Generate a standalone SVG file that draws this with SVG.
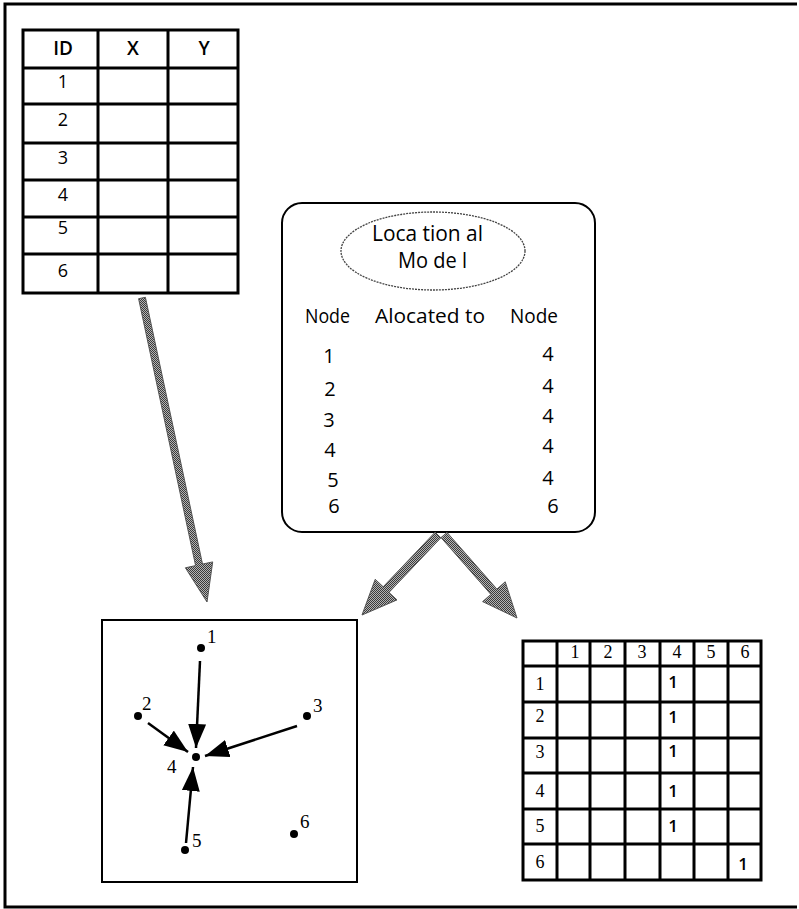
<svg xmlns="http://www.w3.org/2000/svg" width="799" height="909" viewBox="0 0 799 909">
  <defs>
    <!-- halftone fill used by the wide grey flow arrows -->
    <pattern id="halftone" width="2" height="2" patternUnits="userSpaceOnUse">
      <rect width="2" height="2" fill="#b4b4b4"/>
      <rect width="1" height="1" fill="#3a3a3a"/>
      <rect x="1" y="1" width="1" height="1" fill="#3a3a3a"/>
    </pattern>
    <marker id="head" markerUnits="userSpaceOnUse" markerWidth="26" markerHeight="20" refX="24" refY="9" orient="auto">
      <path d="M0,0 L24,9 L0,18 Z" fill="#000"/>
    </marker>
  </defs>
  <style>
    .frame { fill: none; stroke: #000; stroke-width: 3; }
    .grid { fill: none; stroke: #000; stroke-width: 3; }
    .thin { fill: none; stroke: #000; stroke-width: 2; }
    .sans { font-family: "Open Sans", "Noto Sans", "Liberation Sans", sans-serif; fill: #000; }
    .serif { font-family: "Liberation Serif", "DejaVu Serif", serif; fill: #000; }
    .hdr { font-size: 19px; font-weight: 600; text-anchor: middle; }
    .cell { font-size: 18px; text-anchor: middle; }
    .lbl { font-size: 20px; }
    .num { font-size: 20px; text-anchor: middle; }
    .pt { font-size: 19px; }
    .mx { font-size: 18px; text-anchor: middle; }
    .one { font-size: 17px; font-weight: 600; text-anchor: middle; }
    .flow { fill: url(#halftone); stroke: #555; stroke-width: 1; }
    .link { stroke: #000; stroke-width: 2.5; fill: none; marker-end: url(#head); }
  </style>

  <rect width="799" height="909" fill="#fff"/>

  <!-- page frame (open on the right side) -->
  <path class="frame" d="M797,4 H5 V907 H797"/>

  <!-- coordinate table -->
  <g id="coord-table">
    <rect class="grid" x="23" y="30" width="215" height="263"/>
    <path class="grid" d="M98,30 V293 M168,30 V293 M23,68 H238 M23,104 H238 M23,143 H238 M23,180 H238 M23,217 H238 M23,254 H238"/>
    <g class="sans">
      <text class="hdr" x="63" y="55">ID</text>
      <text class="hdr" x="133" y="55">X</text>
      <text class="hdr" x="204" y="55">Y</text>
      <text class="cell" x="63" y="88">1</text>
      <text class="cell" x="63" y="126">2</text>
      <text class="cell" x="63" y="164">3</text>
      <text class="cell" x="63" y="201">4</text>
      <text class="cell" x="63" y="234">5</text>
      <text class="cell" x="63" y="277">6</text>
    </g>
  </g>

  <!-- locational model box -->
  <g id="locational-model">
    <rect class="thin" x="282" y="203" width="313" height="329" rx="20" ry="20"/>
    <ellipse cx="433" cy="251" rx="92" ry="39" fill="none" stroke="#444" stroke-width="1.3" stroke-dasharray="2 1"/>
    <g class="sans">
      <text x="372" y="241" font-size="21" textLength="111" lengthAdjust="spacingAndGlyphs">Loca tion al</text>
      <text x="398" y="268" font-size="21" textLength="69" lengthAdjust="spacingAndGlyphs">Mo de l</text>
      <text class="lbl" x="305" y="323" textLength="45" lengthAdjust="spacingAndGlyphs">Node</text>
      <text class="lbl" x="375" y="323" textLength="110" lengthAdjust="spacingAndGlyphs">Alocated to</text>
      <text class="lbl" x="510" y="323" textLength="48" lengthAdjust="spacingAndGlyphs">Node</text>
      <text class="num" x="329" y="363">1</text>
      <text class="num" x="330" y="396">2</text>
      <text class="num" x="329" y="427">3</text>
      <text class="num" x="330" y="457">4</text>
      <text class="num" x="333" y="487">5</text>
      <text class="num" x="334" y="513">6</text>
      <text class="num" x="548" y="361">4</text>
      <text class="num" x="548" y="393">4</text>
      <text class="num" x="548" y="423">4</text>
      <text class="num" x="548" y="453">4</text>
      <text class="num" x="548" y="485">4</text>
      <text class="num" x="553" y="513">6</text>
    </g>
  </g>

  <!-- point map -->
  <g id="point-map">
    <rect class="thin" x="102" y="620" width="255" height="262"/>
    <g fill="#000">
      <circle cx="201" cy="648" r="4"/>
      <circle cx="138" cy="716" r="4"/>
      <circle cx="307" cy="716" r="4"/>
      <circle cx="196" cy="757" r="4"/>
      <circle cx="185" cy="850" r="4"/>
      <circle cx="294" cy="834" r="4"/>
    </g>
    <g class="serif pt">
      <text x="207" y="643">1</text>
      <text x="142" y="710">2</text>
      <text x="313" y="712">3</text>
      <text x="167" y="773">4</text>
      <text x="192" y="847">5</text>
      <text x="300" y="828">6</text>
    </g>
  </g>

  <!-- allocation matrix -->
  <g id="allocation-matrix">
    <rect class="grid" x="523" y="641" width="238" height="239"/>
    <path class="grid" d="M557,641 V880 M590,641 V880 M625,641 V880 M660,641 V880 M694,641 V880 M728,641 V880 M523,666 H761 M523,702 H761 M523,738 H761 M523,773 H761 M523,809 H761 M523,844 H761"/>
    <g class="serif mx">
      <text x="575" y="658">1</text>
      <text x="608" y="658">2</text>
      <text x="642" y="658">3</text>
      <text x="677" y="658">4</text>
      <text x="711" y="658">5</text>
      <text x="745" y="658">6</text>
      <text x="540" y="690">1</text>
      <text x="540" y="722">2</text>
      <text x="540" y="758">3</text>
      <text x="540" y="797">4</text>
      <text x="540" y="832">5</text>
      <text x="540" y="868">6</text>
    </g>
    <g class="sans one">
      <text x="673" y="688">1</text>
      <text x="673" y="723">1</text>
      <text x="673" y="757">1</text>
      <text x="673" y="797">1</text>
      <text x="673" y="832">1</text>
      <text x="743" y="870">1</text>
    </g>
  </g>

  <!-- connectors -->
  <g id="connectors">
    <!-- grey flow arrows -->
    <polygon class="flow" points="138.6,298.7 195.6,565.6 185.4,567.8 207,602 212.7,561.9 202.5,564.1 145.4,297.3"/>
    <polygon class="flow" points="435.1,532.2 383.2,586.8 375.2,579.3 362,615 397,599.9 389,592.4 440.9,537.8"/>
    <polygon class="flow" points="441,537.6 490.9,594.4 482.6,601.6 517,618 505.2,581.8 496.9,589.1 447,532.4"/>
    <!-- allocation links on the map -->
    <line class="link" x1="200" y1="661" x2="196" y2="748"/>
    <line class="link" x1="148" y1="723" x2="188" y2="752"/>
    <line class="link" x1="297" y1="726" x2="205" y2="756"/>
    <line class="link" x1="186" y1="843" x2="193" y2="767"/>
  </g>
</svg>
